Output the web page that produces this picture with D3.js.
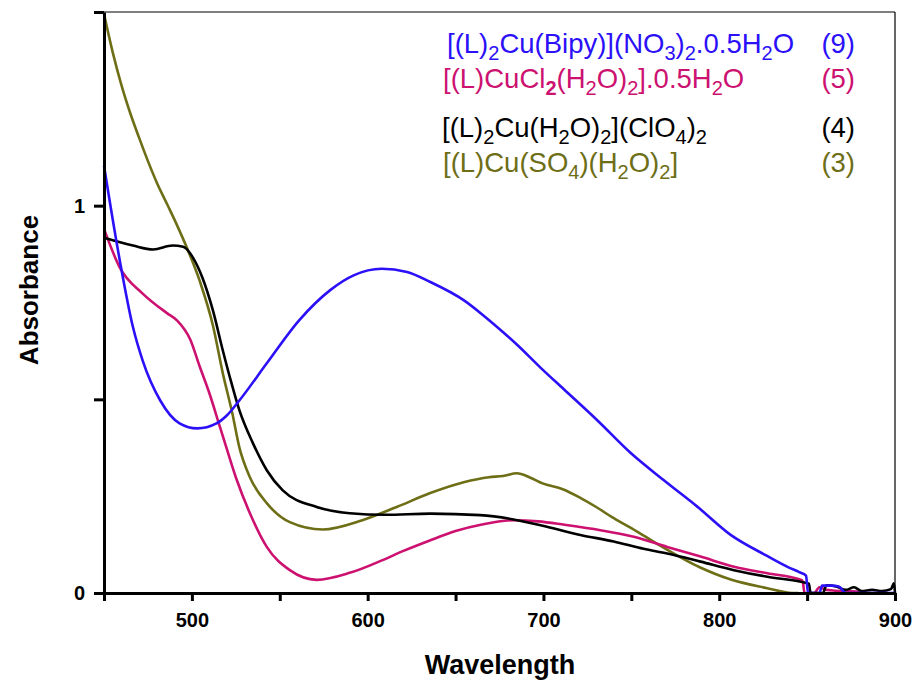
<!DOCTYPE html>
<html>
<head>
<meta charset="utf-8">
<script src="https://cdn.jsdelivr.net/npm/d3@7"></script>
<style>
  body { margin: 0; background: #fff; }
  svg { font-family: "Liberation Sans", Arial, sans-serif; }
  .axis text { font-weight: bold; font-size: 20px; fill: #000; }
  .axis path, .axis line { stroke: #000; stroke-width: 3px; }
  .series { fill: none; stroke-width: 2.6px; stroke-linejoin: round; }
</style>
</head>
<body>
<div id="chart"></div>
<script>
// wavelength (nm) / absorbance pairs
var wl9 = [450, 459, 466.5, 472, 482, 493, 503, 514, 520, 527, 542.6, 561, 578.7, 592, 608, 622.4, 635.6, 654.6, 666, 677.4, 685, 698.3, 711.6, 730.6, 749.5, 768.5, 787.5, 806.5, 826.7, 840, 845.5, 849.4, 850.5, 857, 858.5, 864, 868, 872, 900];
var abs9 = [1.103, 0.858, 0.686, 0.600, 0.497, 0.438, 0.425, 0.438, 0.459, 0.497, 0.593, 0.704, 0.782, 0.820, 0.837, 0.829, 0.803, 0.756, 0.716, 0.672, 0.641, 0.582, 0.526, 0.446, 0.362, 0.291, 0.223, 0.150, 0.097, 0.065, 0.054, 0.045, 0.0, 0.0, 0.019, 0.019, 0.017, 0.0, 0.0];

var wl5 = [450, 459, 472, 486, 491.5, 499, 504.5, 510, 516, 520, 525.6, 533, 542.6, 555.7, 571, 589.8, 608.5, 620, 635, 650, 665, 683, 697, 712, 732.4, 751.4, 770.4, 789.4, 808.4, 827.4, 846.4, 847.5, 848.5, 854, 857, 861, 866, 878, 880];
var abs5 = [0.940, 0.840, 0.773, 0.722, 0.704, 0.655, 0.584, 0.515, 0.428, 0.370, 0.291, 0.206, 0.119, 0.059, 0.034, 0.052, 0.085, 0.108, 0.135, 0.160, 0.177, 0.188, 0.185, 0.176, 0.162, 0.145, 0.119, 0.094, 0.068, 0.051, 0.034, 0.030, 0.0, 0.0, 0.015, 0.008, 0.006, 0.004, 0.0];

var wl4 = [450, 466.5, 478, 489, 495, 500.6, 506, 512, 517.6, 521.6, 527, 534.7, 542.6, 551.7, 571, 589.8, 610, 635.6, 664, 683, 702, 721, 740, 757, 770.4, 789.4, 808.4, 827.4, 846.4, 851, 852, 859, 861, 866.5, 872, 876.7, 881, 887, 892.6, 897.7, 899.4, 900];
var abs4 = [0.917, 0.897, 0.887, 0.897, 0.894, 0.866, 0.814, 0.729, 0.626, 0.557, 0.472, 0.387, 0.317, 0.265, 0.222, 0.206, 0.202, 0.205, 0.201, 0.190, 0.171, 0.150, 0.133, 0.114, 0.102, 0.081, 0.059, 0.042, 0.029, 0.024, 0.0, 0.0, 0.020, 0.017, 0.008, 0.015, 0.005, 0.008, 0.005, 0.010, 0.025, 0.0];

var wl3 = [450, 455, 460, 465, 470, 475, 480, 486, 491, 497, 504.5, 512, 517.6, 523, 527, 533, 542.6, 555.7, 574.4, 597, 616.5, 635.6, 654.6, 669, 677, 685, 692, 699.5, 711, 720.5, 730, 739, 749, 758.5, 767.6, 788.6, 807, 826.7, 841.5, 845];
var abs3 = [1.495, 1.395, 1.310, 1.238, 1.175, 1.115, 1.060, 1.003, 0.955, 0.893, 0.805, 0.690, 0.567, 0.464, 0.376, 0.299, 0.232, 0.183, 0.164, 0.188, 0.222, 0.258, 0.286, 0.299, 0.302, 0.309, 0.299, 0.283, 0.268, 0.247, 0.222, 0.196, 0.170, 0.144, 0.119, 0.067, 0.034, 0.013, 0.0, 0.0];

// legend: "_" marks a subscript, "_!" a bold subscript
var legendNames = ["[(L)_2Cu(Bipy)](NO_3)_2.0.5H_2O", "[(L)CuCl_!2(H_2O)_2].0.5H_2O", "[(L)_2Cu(H_2O)_2](ClO_4)_2", "[(L)Cu(SO_4)(H_2O)_2]"];
var legendIds = ["(9)", "(5)", "(4)", "(3)"];
var colors = ["#2b10f8", "#cc1170", "#000000", "#6e6e17"];

var xTicks = [450, 500, 550, 600, 650, 700, 750, 800, 850, 900];
var yTicks = [0, 0.5, 1, 1.5];

var fullwidth = 914, fullheight = 680;
var margin = { top: 12, right: 19, bottom: 87, left: 104 };
var width = fullwidth - margin.left - margin.right;
var height = fullheight - margin.top - margin.bottom;

var svg = d3.select("#chart").append("svg")
    .attr("width", fullwidth)
    .attr("height", fullheight);

var g = svg.append("g")
    .attr("transform", "translate(" + margin.left + "," + margin.top + ")");

var xScale = d3.scaleLinear().domain([450, 900]).range([0, width]);
var yScale = d3.scaleLinear().domain([0, 1.5]).range([height, 0]);

var line = d3.line()
    .x(function(d) { return xScale(d[0]); })
    .y(function(d) { return yScale(d[1]); })
    .curve(d3.curveMonotoneX);

var dataset = [
  d3.zip(wl9, abs9),
  d3.zip(wl5, abs5),
  d3.zip(wl4, abs4),
  d3.zip(wl3, abs3)
];

// frame: thin top and right
g.append("line").attr("x1", 0).attr("x2", width).attr("y1", 0).attr("y2", 0)
  .attr("stroke", "#000").attr("stroke-width", 1.2);
g.append("line").attr("x1", width).attr("x2", width).attr("y1", 0).attr("y2", height)
  .attr("stroke", "#000").attr("stroke-width", 1.2);

// draw order: olive, pink, black, blue on top
[3, 1, 2, 0].forEach(function(i) {
  g.append("path")
    .datum(dataset[i])
    .attr("class", "series")
    .attr("stroke", colors[i])
    .attr("d", line);
});

var xAxis = d3.axisBottom(xScale)
    .tickValues(xTicks)
    .tickSize(8)
    .tickSizeOuter(0)
    .tickPadding(12)
    .tickFormat(function(d) { return (d % 100 === 0 && d > 450) ? d : ""; });

var yAxis = d3.axisLeft(yScale)
    .tickValues(yTicks)
    .tickSize(10)
    .tickSizeOuter(0)
    .tickPadding(9)
    .tickFormat(function(d) { return (d === 0 || d === 1) ? d : ""; });

g.append("g")
  .attr("class", "x axis")
  .attr("transform", "translate(0," + height + ")")
  .call(xAxis);

g.append("g")
  .attr("class", "y axis")
  .call(yAxis);

// axis titles
svg.append("text")
  .attr("x", 500).attr("y", 674)
  .attr("text-anchor", "middle")
  .style("font-weight", "bold").style("font-size", "27px")
  .text("Wavelength");

svg.append("text")
  .attr("transform", "translate(38,290) rotate(-90)")
  .attr("text-anchor", "middle")
  .style("font-weight", "bold").style("font-size", "26px")
  .text("Absorbance");

// legend
var legendX = [447, 443, 442, 443];
var legendY = [53, 88, 137, 172];

function addFormula(textSel, str) {
  var parts = str.split(/(_!?.)/);
  var shifted = false;
  parts.forEach(function(p) {
    if (p === "") return;
    if (p.charAt(0) === "_") {
      var bold = p.charAt(1) === "!";
      textSel.append("tspan")
        .attr("dy", shifted ? 0 : 7)
        .style("font-size", "20px")
        .style("font-weight", bold ? "bold" : null)
        .text(p.slice(bold ? 2 : 1));
      shifted = true;
    } else {
      textSel.append("tspan")
        .attr("dy", shifted ? -7 : 0)
        .text(p);
      shifted = false;
    }
  });
}

legendNames.forEach(function(name, i) {
  var t = svg.append("text")
    .attr("x", legendX[i]).attr("y", legendY[i])
    .attr("fill", colors[i])
    .style("font-size", "27.5px");
  addFormula(t, name);

  svg.append("text")
    .attr("x", 855).attr("y", legendY[i])
    .attr("text-anchor", "end")
    .attr("fill", colors[i])
    .style("font-size", "27.5px")
    .text(legendIds[i]);
});
</script>
</body>
</html>
